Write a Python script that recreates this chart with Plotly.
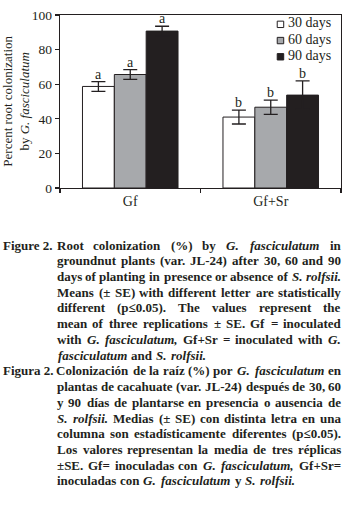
import plotly.graph_objects as go

# ---------------- data ----------------
categories = ["Gf", "Gf+Sr"]
series_names = ["30 days", "60 days", "90 days"]
values_30 = [58.7, 41.0]
values_60 = [65.6, 46.7]
values_90 = [90.7, 53.7]
se_30 = [2.8, 4.0]
se_60 = [2.8, 4.1]
se_90 = [2.8, 8.2]
letters_30 = ["a", "b"]
letters_60 = ["a", "b"]
letters_90 = ["a", "b"]
y_ticks = [0, 20, 40, 60, 80, 100]

caption_lines = [
    ("Figure 2.", [("Root", 0), ("colonization", 0), ("(%)", 0), ("by", 0), ("G.", 1), ("fasciculatum", 1), ("in", 0)], True),
    (None, [("groundnut", 0), ("plants", 0), ("(var.", 0), ("JL-24)", 0), ("after", 0), ("30,", 0), ("60", 0), ("and", 0), ("90", 0)], True),
    (None, [("days", 0), ("of", 0), ("planting", 0), ("in", 0), ("presence", 0), ("or", 0), ("absence", 0), ("of", 0), ("S.", 1), ("rolfsii.", 1)], True),
    (None, [("Means", 0), ("(±", 0), ("SE)", 0), ("with", 0), ("different", 0), ("letter", 0), ("are", 0), ("statistically", 0)], True),
    (None, [("different", 0), ("(p≤0.05).", 0), ("The", 0), ("values", 0), ("represent", 0), ("the", 0)], True),
    (None, [("mean", 0), ("of", 0), ("three", 0), ("replications", 0), ("±", 0), ("SE.", 0), ("Gf", 0), ("=", 0), ("inoculated", 0)], True),
    (None, [("with", 0), ("G.", 1), ("fasciculatum,", 1), ("Gf+Sr", 0), ("=", 0), ("inoculated", 0), ("with", 0), ("G.", 1)], True),
    (None, [("fasciculatum", 1), ("and", 0), ("S.", 1), ("rolfsii.", 1)], False),
    ("Figura 2.", [("Colonización", 0), ("de", 0), ("la", 0), ("raíz", 0), ("(%)", 0), ("por", 0), ("G.", 1), ("fasciculatum", 1), ("en", 0)], True),
    (None, [("plantas", 0), ("de", 0), ("cacahuate", 0), ("(var.", 0), ("JL-24)", 0), ("después", 0), ("de", 0), ("30,", 0), ("60", 0)], True),
    (None, [("y", 0), ("90", 0), ("días", 0), ("de", 0), ("plantarse", 0), ("en", 0), ("presencia", 0), ("o", 0), ("ausencia", 0), ("de", 0)], True),
    (None, [("S.", 1), ("rolfsii.", 1), ("Medias", 0), ("(±", 0), ("SE)", 0), ("con", 0), ("distinta", 0), ("letra", 0), ("en", 0), ("una", 0)], True),
    (None, [("columna", 0), ("son", 0), ("estadísticamente", 0), ("diferentes", 0), ("(p≤0.05).", 0)], True),
    (None, [("Los", 0), ("valores", 0), ("representan", 0), ("la", 0), ("media", 0), ("de", 0), ("tres", 0), ("réplicas", 0)], True),
    (None, [("±SE.", 0), ("Gf=", 0), ("inoculadas", 0), ("con", 0), ("G.", 1), ("fasciculatum,", 1), ("Gf+Sr=", 0)], True),
    (None, [("inoculadas", 0), ("con", 0), ("G.", 1), ("fasciculatum", 1), ("y", 0), ("S.", 1), ("rolfsii.", 1)], False),
]

# ---------------- styling ----------------
FONT = "Liberation Serif"
INK = "#231f20"
colors = ["#ffffff", "#a7a9ac", "#231f20"]

W, H = 350, 509
ML, MR, MT = 60, 8, 12
PB = 188  # plot bottom px
MB = H - PB
PW = W - ML - MR
PH = PB - MT


def px_x(px):
    return (px - ML) / PW


def px_y(py):
    return (PB - py) / PH


fig = go.Figure()
all_vals = [values_30, values_60, values_90]
all_se = [se_30, se_60, se_90]
all_letters = [letters_30, letters_60, letters_90]
for name, vals, se, col in zip(series_names, all_vals, all_se, colors):
    fig.add_trace(go.Bar(
        x=categories, y=vals, name=name,
        marker=dict(color=col, line=dict(color=INK, width=1)),
        error_y=dict(type="data", array=se, visible=True, color=INK,
                     thickness=1.3, width=7),
        hoverinfo="skip",
    ))

fig.update_layout(
    width=W, height=H,
    margin=dict(l=ML, r=MR, t=MT, b=MB, pad=0),
    paper_bgcolor="white", plot_bgcolor="white",
    barmode="group", bargap=0.32, bargroupgap=0,
    font=dict(family=FONT, color=INK, size=14),
    showlegend=False,
)
fig.update_xaxes(showline=True, linecolor=INK, linewidth=1.3, mirror=True,
                 ticks="outside", ticklen=4, tickcolor=INK, tickwidth=1.3,
                 tickson="boundaries", tickfont=dict(size=14, family=FONT),
                 showgrid=False)
fig.update_yaxes(range=[0, 100], tickvals=y_ticks, showline=True, linecolor=INK,
                 linewidth=1.3, mirror=True, ticks="outside", ticklen=4,
                 tickcolor=INK, tickwidth=1.3, tickfont=dict(size=13.5, family=FONT),
                 showgrid=False, zeroline=False)

# significance letters, placed via data coordinates
offsets = [-1, 0, 1]
for k in range(3):
    for i, cat in enumerate(categories):
        fig.add_annotation(
            x=cat, y=all_vals[k][i] + all_se[k][i], text=all_letters[k][i],
            xref="x", yref="y", showarrow=False, yanchor="bottom",
            xshift=offsets[k] * 32, yshift=-1, borderpad=0,
            font=dict(size=14, family=FONT, color=INK),
        )

# legend (small squares like the original)
LEG_X, LEG_Y0, LEG_DY, SQ = 278, 20, 16.5, 6.5
for k, (name, col) in enumerate(zip(series_names, colors)):
    cy = LEG_Y0 + k * LEG_DY
    fig.add_shape(type="rect", xref="paper", yref="paper",
                  x0=px_x(LEG_X), x1=px_x(LEG_X + SQ),
                  y0=px_y(cy + 1.5 + SQ / 2), y1=px_y(cy + 1.5 - SQ / 2),
                  fillcolor=col, line=dict(color=INK, width=1))
    fig.add_annotation(x=px_x(LEG_X + SQ + 3.5), y=px_y(cy), xref="paper", yref="paper",
                       text=name, showarrow=False, xanchor="left", yanchor="middle",
                       borderpad=0, font=dict(size=14, family=FONT, color=INK))

# y-axis title
fig.add_annotation(
    x=px_x(15), y=0.5, xref="paper", yref="paper", textangle=-90,
    text="Percent root colonization<br>by <i>G. fasciculatum</i>",
    showarrow=False, xanchor="center", yanchor="middle", borderpad=0,
    font=dict(size=13, family=FONT, color=INK),
)

# ---------------- caption (justified) ----------------
TB = {
    'a': 500, 'b': 556, 'c': 444, 'd': 556, 'e': 444, 'f': 333, 'g': 500, 'h': 556,
    'i': 278, 'j': 333, 'k': 556, 'l': 278, 'm': 833, 'n': 556, 'o': 500, 'p': 556,
    'q': 556, 'r': 444, 's': 389, 't': 333, 'u': 556, 'v': 500, 'w': 722, 'x': 500,
    'y': 500, 'z': 444, 'A': 722, 'B': 667, 'C': 722, 'D': 722, 'E': 667, 'F': 611,
    'G': 778, 'H': 778, 'I': 389, 'J': 500, 'K': 778, 'L': 667, 'M': 944, 'N': 722,
    'O': 778, 'P': 611, 'Q': 778, 'R': 722, 'S': 556, 'T': 667, 'U': 722, 'V': 722,
    'W': 1000, 'X': 722, 'Y': 722, 'Z': 667, ' ': 250, '.': 250, ',': 250, '(': 333,
    ')': 333, '%': 1000, '-': 333, '=': 570, '+': 570, '±': 570, '≤': 549, 'é': 444,
    'í': 278, 'ó': 500, 'á': 500,
}
CAP_FS = 13
CAP_L, CAP_R = 57, 342
Y0, DY = 246, 16


def word_w(w):
    return sum(TB.get(c, 500) for c in w) * CAP_FS / 1000.0


for li, (label, words, justify) in enumerate(caption_lines):
    py = Y0 + li * DY
    if label:
        fig.add_annotation(x=px_x(2), y=px_y(py), xref="paper", yref="paper",
                           text="<b>" + label + "</b>", showarrow=False, borderpad=0,
                           xanchor="left", yanchor="middle",
                           font=dict(size=CAP_FS, family=FONT, color=INK))
    widths = [word_w(w) for w, _ in words]
    total = sum(widths)
    if justify and len(words) > 1:
        gap = (CAP_R - CAP_L - total) / (len(words) - 1)
    else:
        gap = 300 * CAP_FS / 1000.0
    xcur = CAP_L
    for (w, it), ww in zip(words, widths):
        t = "<b>" + (f"<i>{w}</i>" if it else w) + "</b>"
        fig.add_annotation(x=px_x(xcur + ww / 2), y=px_y(py), xref="paper", yref="paper",
                           text=t, showarrow=False, xanchor="center", yanchor="middle",
                           borderpad=0,
                           font=dict(size=CAP_FS, family=FONT, color=INK))
        xcur += ww + gap

# remove the default page margin so the figure sits at the window's top-left corner
fig.write_html("out.html",
               config={"displayModeBar": False, "staticPlot": True},
               post_script="document.body.style.margin='0';document.body.style.overflow='hidden';")
